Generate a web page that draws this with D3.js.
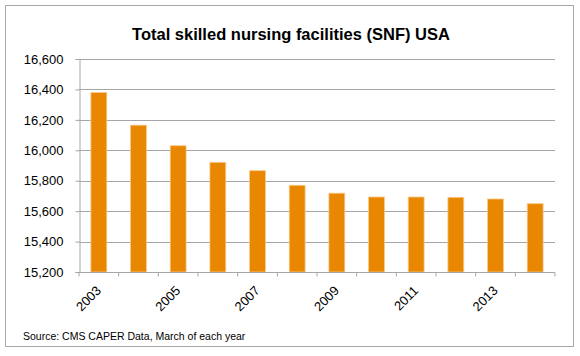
<!DOCTYPE html>
<html>
<head>
<meta charset="utf-8">
<script src="https://cdn.jsdelivr.net/npm/d3@7"></script>
<style>
  body { margin: 0; background: #fff; }
  text { font-family: "Liberation Sans", Arial, sans-serif; fill: #000; }
</style>
</head>
<body>
<div id="chart"></div>
<script>
// chart data
const years = ["2003", "2004", "2005", "2006", "2007", "2008", "2009", "2010", "2011", "2012", "2013", "2014"];
const facilities = [16380, 16165, 16030, 15921, 15866, 15770, 15718, 15693, 15693, 15691, 15680, 15649];
const yTicks = [15200, 15400, 15600, 15800, 16000, 16200, 16400, 16600];
const shownYears = ["2003", "2005", "2007", "2009", "2011", "2013"];

const W = 580, H = 356;
const margin = { top: 59, right: 25, bottom: 84, left: 79 },
    width = 555 - margin.left,
    height = 272 - margin.top;

const root = d3.select("#chart").append("svg")
    .attr("width", W)
    .attr("height", H);

// outer frame
root.append("rect")
    .attr("x", 5.5).attr("y", 5.5)
    .attr("width", 568).attr("height", 341)
    .attr("fill", "#fff")
    .attr("stroke", "#a8a8a8");

// title
root.append("text")
    .attr("x", 291).attr("y", 40)
    .attr("text-anchor", "middle")
    .style("font-size", "16.5px")
    .style("font-weight", "bold")
    .text("Total skilled nursing facilities (SNF) USA");

// source note
root.append("text")
    .attr("x", 23).attr("y", 340)
    .style("font-size", "10.5px")
    .text("Source: CMS CAPER Data, March of each year");

const svg = root.append("g")
    .attr("transform", `translate(${margin.left},${margin.top})`);

// scales
const x = d3.scaleBand()
    .domain(years)
    .range([0, width])
    .paddingInner(0.6)
    .paddingOuter(0.3);

const y = d3.scaleLinear()
    .domain([15200, 16600])
    .range([height, 0]);

// gridlines
svg.append("g")
    .selectAll("line")
    .data(yTicks.slice(1))
    .join("line")
    .attr("x1", 0).attr("x2", width)
    .attr("y1", d => Math.round(y(d)) + 0.5)
    .attr("y2", d => Math.round(y(d)) + 0.5)
    .attr("stroke", "#a6a6a6");

// bars
svg.append("g")
    .selectAll("rect")
    .data(facilities)
    .join("rect")
    .attr("x", (d, i) => x(years[i]))
    .attr("width", x.bandwidth())
    .attr("y", d => y(d))
    .attr("height", d => height - y(d))
    .attr("fill", "#e98800")
    .attr("stroke", "#f6c98f")
    .attr("stroke-width", 0.8);

// y axis
const yAxis = svg.append("g")
    .attr("transform", "translate(0.5,0)")
    .call(d3.axisLeft(y).tickValues(yTicks).tickSize(4).tickPadding(12)
        .tickFormat(d3.format(",")));
yAxis.selectAll("text").style("font-size", "13px").attr("fill", "#000");
yAxis.selectAll("line, path").attr("stroke", "#a6a6a6");

// x axis: tick marks at band edges
const xAxisG = svg.append("g")
    .attr("transform", `translate(0,${Math.round(height) + 0.5})`);
xAxisG.append("line")
    .attr("x1", 0).attr("x2", width)
    .attr("stroke", "#a6a6a6");
const step = x.step();
xAxisG.selectAll(".tk")
    .data(d3.range(years.length + 1))
    .join("line")
    .attr("class", "tk")
    .attr("x1", i => i * step).attr("x2", i => i * step)
    .attr("y1", 0).attr("y2", 4)
    .attr("stroke", "#a6a6a6");

// x labels, rotated
xAxisG.selectAll(".lbl")
    .data(shownYears)
    .join("text")
    .attr("class", "lbl")
    .attr("text-anchor", "end")
    .style("font-size", "13px")
    .attr("transform", d => `translate(${x(d) + x.bandwidth() / 2 + 3},${19}) rotate(-45)`)
    .text(d => d);
</script>
</body>
</html>
